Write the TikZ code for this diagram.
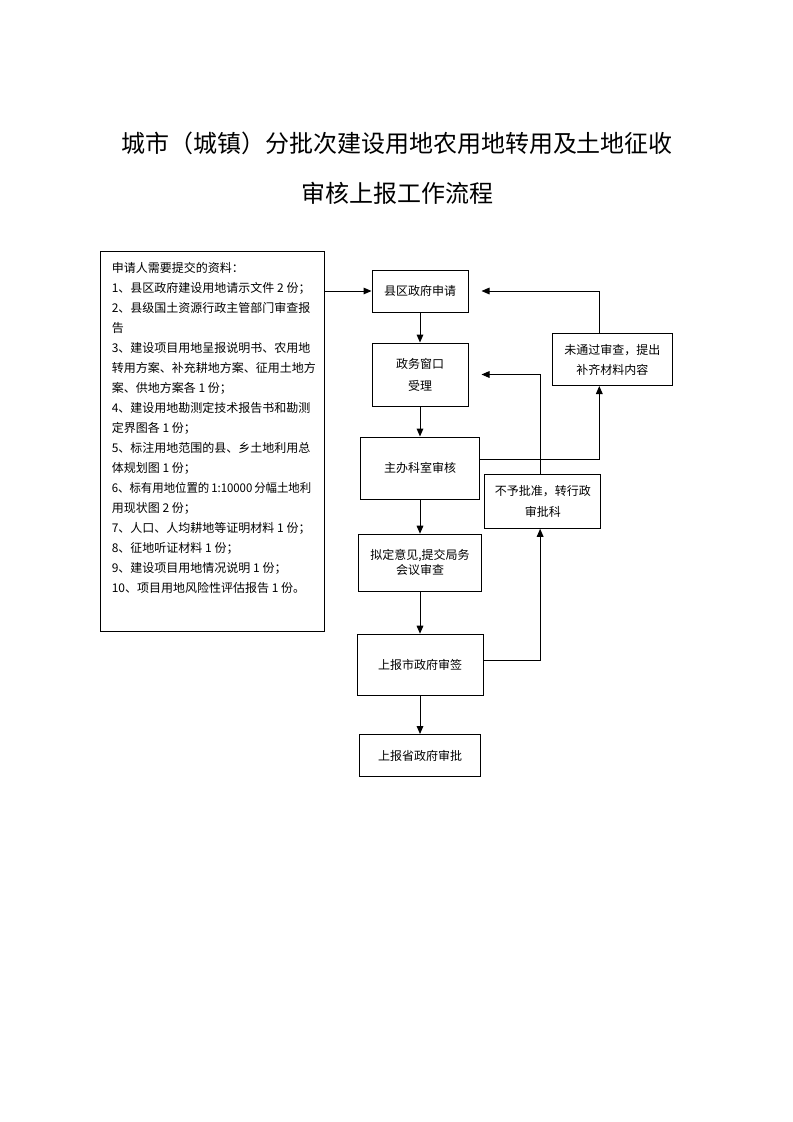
\documentclass[tikz,border=0pt]{standalone}
\usepackage{fontspec}
\setmainfont{Noto Sans CJK SC}
\usetikzlibrary{positioning,calc,arrows.meta}

\begin{document}
\begin{tikzpicture}[x=0.75pt,y=-0.75pt,
    box/.style={draw, line width=0.75pt, align=center, inner sep=0pt, font=\fontsize{9pt}{15pt}\selectfont},
    arr/.style={-{Triangle[length=6pt,width=5pt]}, line width=0.75pt}]
    \useasboundingbox (0,0) rectangle (793,1122);
    \node[align=center, font=\fontsize{18pt}{37.5pt}\selectfont] (title) at (397,168) {城市（城镇）分批次建设用地农用地转用及土地征收\\审核上报工作流程};
    %
    \node[draw, line width=0.75pt, anchor=north west, inner xsep=8.5pt, inner ysep=8pt] (zl) at (100,251)
      {\parbox[t][269pt][t]{151pt}{\raggedright\fontsize{9pt}{15pt}\selectfont
        申请人需要提交的资料：\\
        1、县区政府建设用地请示文件 2 份；\\
        2、县级国土资源行政主管部门审查报\\
        告\\
        3、建设项目用地呈报说明书、农用地\\
        转用方案、补充耕地方案、征用土地方\\
        案、供地方案各 1 份；\\
        4、建设用地勘测定技术报告书和勘测\\
        定界图各 1 份；\\
        5、标注用地范围的县、乡土地利用总\\
        体规划图 1 份；\\
        \scalebox{0.95}[1]{6、标有用地位置的\,1:10000\,分幅土地利}\\
        用现状图 2 份；\\
        7、人口、人均耕地等证明材料 1 份；\\
        8、征地听证材料 1 份；\\
        9、建设项目用地情况说明 1 份；\\
        10、项目用地风险性评估报告 1 份。}};
    %
    \node[box, minimum width=72pt, minimum height=31.5pt] (sq) at (420,291) {县区政府申请};
    \node[box, minimum width=72pt, minimum height=47.25pt, font=\fontsize{9pt}{16.5pt}\selectfont] (ck) at (420,374.5) {政务窗口\\受理};
    \node[box, minimum width=89.25pt, minimum height=46.5pt] (sh) at (420,468) {主办科室审核};
    \node[box, minimum width=92.25pt, minimum height=42.75pt, font=\fontsize{9pt}{11.5pt}\selectfont] (nd) at (420,562.7) {拟定意见,提交局务\\会议审查};
    \node[box, minimum width=94.5pt, minimum height=45.75pt] (sb) at (420,664.7) {上报市政府审签};
    \node[box, minimum width=90.75pt, minimum height=31.5pt] (sp) at (420,755.5) {上报省政府审批};
    \node[box, minimum width=90pt, minimum height=39pt] (wtg) at (612.3,359.5) {未通过审查，提出\\补齐材料内容};
    \node[box, minimum width=87pt, minimum height=40.5pt, font=\fontsize{9pt}{15.5pt}\selectfont] (byp) at (542.8,501.3) {不予批准，转行政\\审批科};
    %
    \draw[arr] (zl.east |- sq.west) -- (sq.west);
    \draw[arr] (sq) -- (ck);
    \draw[arr] (ck) -- (sh);
    \draw[arr] (sh) -- (nd);
    \draw[arr] (nd) -- (sb);
    \draw[arr] (sb) -- (sp);
    %
    \draw[arr] ([yshift=6.75pt]sh.east) -| ([xshift=-9.75pt]wtg.south);
    \draw[arr, shorten >=9.75pt] ([xshift=-9.75pt]wtg.north) |- (sq.east);
    \draw[arr, shorten >=9.75pt] ([xshift=-2pt]byp.north) |- (ck.east);
    \draw[arr] ([yshift=3pt]sb.east) -| ([xshift=-2pt]byp.south);
\end{tikzpicture}
\end{document}
